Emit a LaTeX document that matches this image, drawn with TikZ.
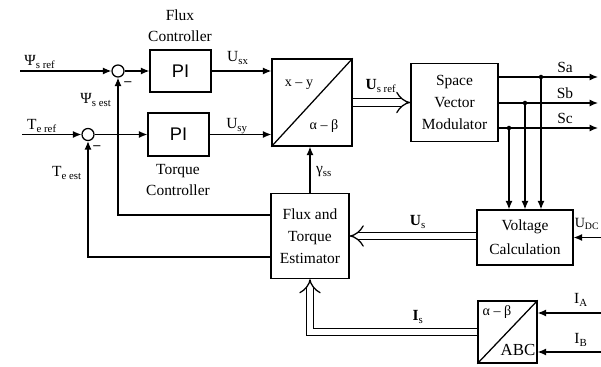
\documentclass[tikz,border=0pt]{standalone}
\usepackage{fontspec}
\setmainfont{Liberation Serif}
\setsansfont{Liberation Sans}
\usetikzlibrary{arrows.meta,positioning}

\begin{document}
\begin{tikzpicture}[x=0.025cm, y=-0.025cm, line width=0.9pt,
    block/.style={draw, rectangle, inner sep=0pt, align=center,
        font=\fontsize{11}{15.5}\selectfont},
    sumnode/.style={draw, circle, minimum size=0.3cm, inner sep=0pt},
    sig/.style={-{Latex[length=6pt,width=5pt]}},
    bus/.style={double, double distance=4.5pt, -{Implies}},
    lbl/.style={font=\fontsize{11}{15}\selectfont, inner sep=1pt, align=center}]

    \useasboundingbox (0,0) rectangle (601,367);

    % Blocks
    \node[block, minimum width=1.525cm, minimum height=1.05cm,
          font=\sffamily\fontsize{13}{15}\selectfont] (fluxpi) at (180.5,71) {PI};
    \node[block, minimum width=1.525cm, minimum height=1.075cm,
          font=\sffamily\fontsize{13}{15}\selectfont] (torqpi) at (178.5,134.5) {PI};
    \node[block, minimum width=2.0cm, minimum height=2.175cm] (xy) at (312,102.5) {};
    \node[block, minimum width=2.175cm, minimum height=1.95cm] (svm) at (454.5,102.5)
        {Space\\Vector\\Modulator};
    \node[block, minimum width=1.95cm, minimum height=2.125cm] (est) at (310,236)
        {Flux and\\Torque\\Estimator};
    \node[block, minimum width=2.4cm, minimum height=1.375cm,
          font=\fontsize{11}{17}\selectfont] (vc) at (525,237.5)
        {Voltage\\Calculation};
    \node[block, minimum width=1.475cm, minimum height=1.55cm] (abc) at (507.5,332) {};

    % Summing junctions
    \node[sumnode] (fluxsum) at (118,71) {};
    \node[sumnode] (torqsum) at (88,134.5) {};
    \node[lbl, font=\bfseries] (fluxminus) at (128,84) {--};
    \node[lbl, font=\bfseries] (torqminus) at (97,148) {--};

    % Transformation diagonals
    \draw (xy.south west) -- (xy.north east);
    \draw (abc.south west) -- (abc.north east);
    \node[lbl, font=\fontsize{10}{12}\selectfont] (xylbl) at (299,85) {x -- y};
    \node[lbl, font=\fontsize{10}{12}\selectfont] (ablbl) at (324,126) {α -- β};
    \node[lbl, font=\fontsize{10}{12}\selectfont] (ablbl2) at (497,312) {α -- β};
    \node[lbl, font=\fontsize{12}{14}\selectfont] (abclbl) at (518,350) {ABC};

    % References
    \coordinate (psiref) at (20,71);
    \coordinate (teref) at (22,134.5);
    \draw[sig] (psiref) -- (fluxsum.west);
    \draw[sig] (teref) -- (torqsum.west);
    \draw[sig] (fluxsum.east) -- (fluxpi.west);
    \draw[sig] (torqsum.east) -- (torqpi.west);
    \draw[sig] (fluxpi.east) -- (fluxpi.east -| xy.west);
    \draw[sig] (torqpi.east) -- (torqpi.east -| xy.west);

    % Feedback from estimator
    \coordinate (psiest) at (271,215);
    \coordinate (teest) at (271,257);
    \draw[sig] (psiest) -| (fluxsum.south);
    \draw[sig] (teest) -| (torqsum.south);
    \draw[sig] (est.north) -- (est.north |- xy.south);

    % Switching signals
    \coordinate (saout) at (598,77);
    \coordinate (sbout) at (598,103);
    \coordinate (scout) at (598,128);
    \draw[sig] (svm.east |- saout) -- (saout);
    \draw[sig] (svm.east |- sbout) -- (sbout);
    \draw[sig] (svm.east |- scout) -- (scout);
    \coordinate (tapa) at (541,77);
    \coordinate (tapb) at (525,103);
    \coordinate (tapc) at (509,128);
    \foreach \t in {tapa,tapb,tapc} {
        \draw[sig] (\t) -- (\t |- vc.north);
        \fill (\t) circle[radius=1.6pt];
    }

    % Vector buses
    \draw[bus] (xy.east) -- (svm.west);
    \draw[bus] (vc.west |- est.east) -- (est.east);
    \draw[bus] (abc.west) -| (est.south);

    % Measured inputs
    \coordinate (udc) at (601,237.5);
    \coordinate (ia) at (601,313);
    \coordinate (ib) at (601,352);
    \draw[sig] (udc) -- (vc.east);
    \draw[sig] (ia) -- (ia -| abc.east);
    \draw[sig] (ib) -- (ib -| abc.east);

    % Labels
    \node[lbl] (fluxlbl) at (180,26) {Flux\\Controller};
    \node[lbl] (torqlbl) at (178,180) {Torque\\Controller};
    \node[lbl] (psireflbl) at (40,62) {Ψ\textsubscript{s ref}};
    \node[lbl] (tereflbl) at (42,126) {T\textsubscript{e ref}};
    \node[lbl] (psiestlbl) at (96,100) {Ψ\textsubscript{s est}};
    \node[lbl] (teestlbl) at (67,173) {T\textsubscript{e est}};
    \node[lbl] (usxlbl) at (238,58) {U\textsubscript{sx}};
    \node[lbl] (usylbl) at (237,126) {U\textsubscript{sy}};
    \node[lbl] (gamlbl) at (324,172) {γ\textsubscript{ss}};
    \node[lbl] (usreflbl) at (381,86) {\textbf{U}\textsubscript{s ref}};
    \node[lbl] (salbl) at (565,67) {Sa};
    \node[lbl] (sblbl) at (565,93) {Sb};
    \node[lbl] (sclbl) at (565,118) {Sc};
    \node[lbl] (uslbl) at (418,222) {\textbf{U}\textsubscript{s}};
    \node[lbl, anchor=east, inner sep=0pt, font=\fontsize{10}{12}\selectfont]
        (udclbl) at (600,224) {U\textsubscript{DC}};
    \node[lbl] (islbl) at (418,317) {\textbf{I}\textsubscript{s}};
    \node[lbl] (ialbl) at (581,300) {I\textsubscript{A}};
    \node[lbl] (iblbl) at (581,340) {I\textsubscript{B}};

\end{tikzpicture}
\end{document}
